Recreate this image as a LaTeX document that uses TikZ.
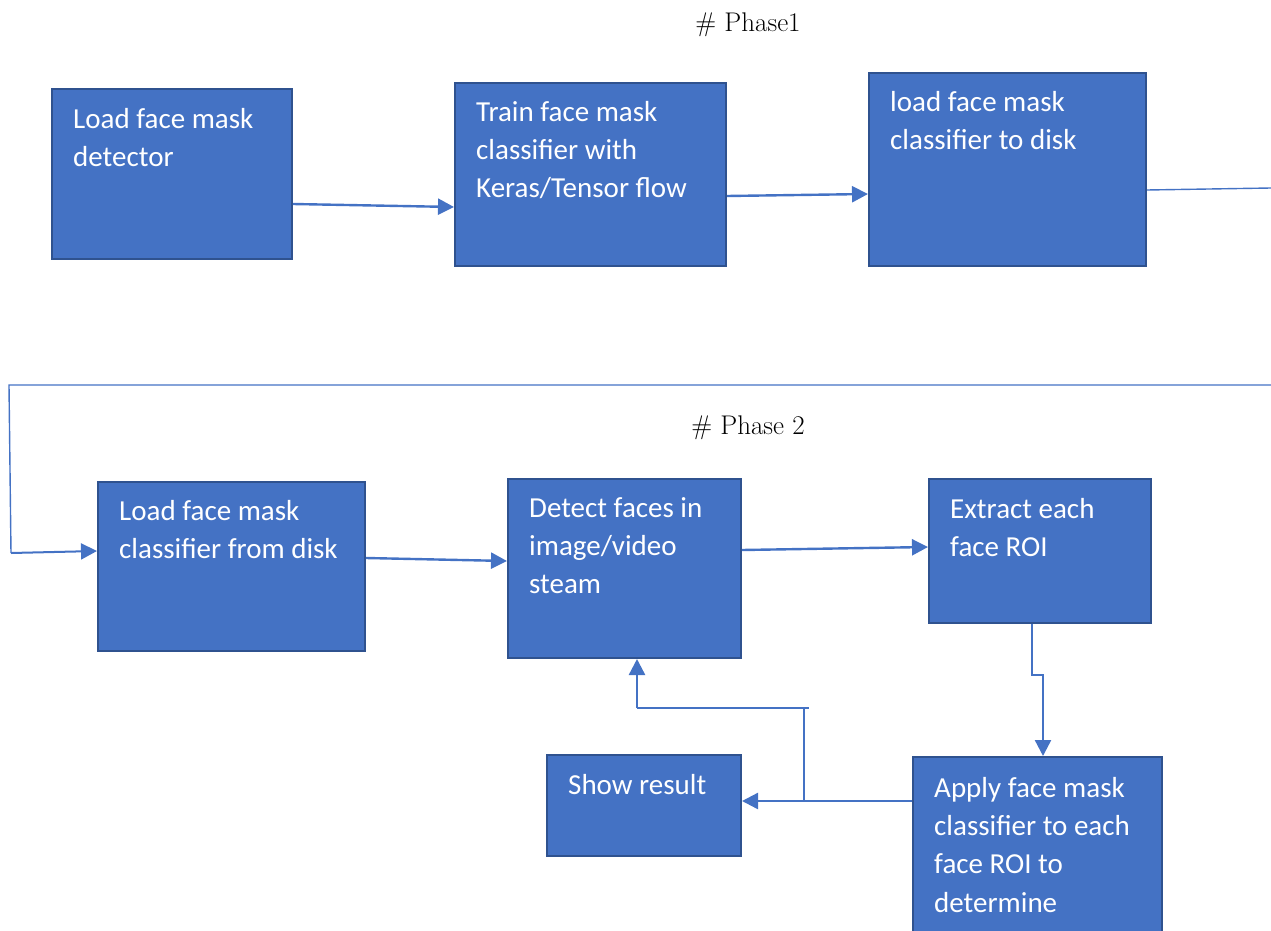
\documentclass[tikz,border=0pt]{standalone}
\usepackage{fontspec}
\setsansfont{Carlito}
\usetikzlibrary{arrows.meta}
\definecolor{boxfill}{HTML}{4472C4}
\definecolor{boxedge}{HTML}{2F528F}
\definecolor{linec}{HTML}{4472C4}
\tikzset{
  stepbox/.style={draw=boxedge, line width=2pt, fill=boxfill, inner sep=0pt, anchor=north west},
  boxtext/.style={anchor=north west, inner sep=0pt, align=left, text=white,
    font=\sffamily\fontsize{29pt}{38.3pt}\selectfont},
  title/.style={font=\fontsize{27pt}{30pt}\selectfont, inner sep=0pt},
  conn/.style={draw=linec, line width=2.4pt, -{Triangle[length=16pt,width=16pt]}},
  thin/.style={draw=linec, line width=1.4pt},
}
\newcommand{\fl}{\rule{0pt}{22pt}}
\begin{document}
\begin{tikzpicture}[x=1pt,y=-1pt]
\useasboundingbox (0,0) rectangle (1271,931);
% titles
\node[title] (t1) at (748,25) {\# Phase1};
\node[title] (t2) at (748,428) {\# Phase 2};
% boxes
\node[stepbox, minimum width=240, minimum height=170] (b1) at (51,88) {};
\node[stepbox, minimum width=271, minimum height=183] (b2) at (454,82) {};
\node[stepbox, minimum width=277, minimum height=193] (b3) at (868,72) {};
\node[stepbox, minimum width=267, minimum height=169] (b4) at (97,481) {};
\node[stepbox, minimum width=233, minimum height=179] (b5) at (507,478) {};
\node[stepbox, minimum width=222, minimum height=144] (b6) at (928,478) {};
\node[stepbox, minimum width=249, minimum height=185] (b7) at (912,756) {};
\node[stepbox, minimum width=194, minimum height=101] (b8) at (546,754) {};
% texts
\node[boxtext] (x1) at (73,106) {\fl Load face mask\\detector};
\node[boxtext] (x2) at (476,99) {\fl Train face mask\\classifier with\\Keras/Tensor flow};
\node[boxtext] (x3) at (890,89) {\fl load face mask\\classifier to disk};
\node[boxtext] (x4) at (119,498) {\fl Load face mask\\classifier from disk};
\node[boxtext] (x5) at (529,495) {\fl Detect faces in\\image/video\\steam};
\node[boxtext] (x6) at (950,496) {\fl Extract each\\face ROI};
\node[boxtext] (x7) at (934,775) {\fl Apply face mask\\classifier to each\\face ROI to\\determine};
\node[boxtext] (x8) at (568,772) {\fl Show result};
% helper coordinates
\coordinate (e3) at (1271,188);
\coordinate (lr) at (1271,385);
\coordinate (ll) at (9,385);
\coordinate (lb) at (11,553);
\coordinate (j1) at (1032,675);
\coordinate (j2) at (1043,675);
\coordinate (fbr) at (804,708);
\coordinate (fbt) at (809,708);
\coordinate (fbl) at (637,708);
% connectors
\draw[conn] (b1.east |- 0,204) -- (b2.west |- 0,207);
\draw[conn] (b2.east |- 0,196) -- (b3.west |- 0,194);
\draw[thin] (b3.east |- 0,190) -- (e3);
\draw[thin] (lr) -- (ll) -- (lb);
\draw[conn, line width=2pt] (lb) -- (b4.west |- 0,551);
\draw[conn] (b4.east |- 0,558) -- (b5.west |- 0,561);
\draw[conn] (b5.east |- 0,550) -- (b6.west |- 0,547);
\draw[conn] (b6.south -| j1) -- (j1) -- (j2) -- (b7.north -| j2);
\draw[conn] (b7.west |- 0,801) -- (b8.east |- 0,801);
\draw[thin] (804,801) -- (fbr) -- (fbt);
\draw[thin] (fbr) -- (fbl);
\draw[conn] (fbl) -- (b5.south -| fbl);
\end{tikzpicture}
\end{document}
